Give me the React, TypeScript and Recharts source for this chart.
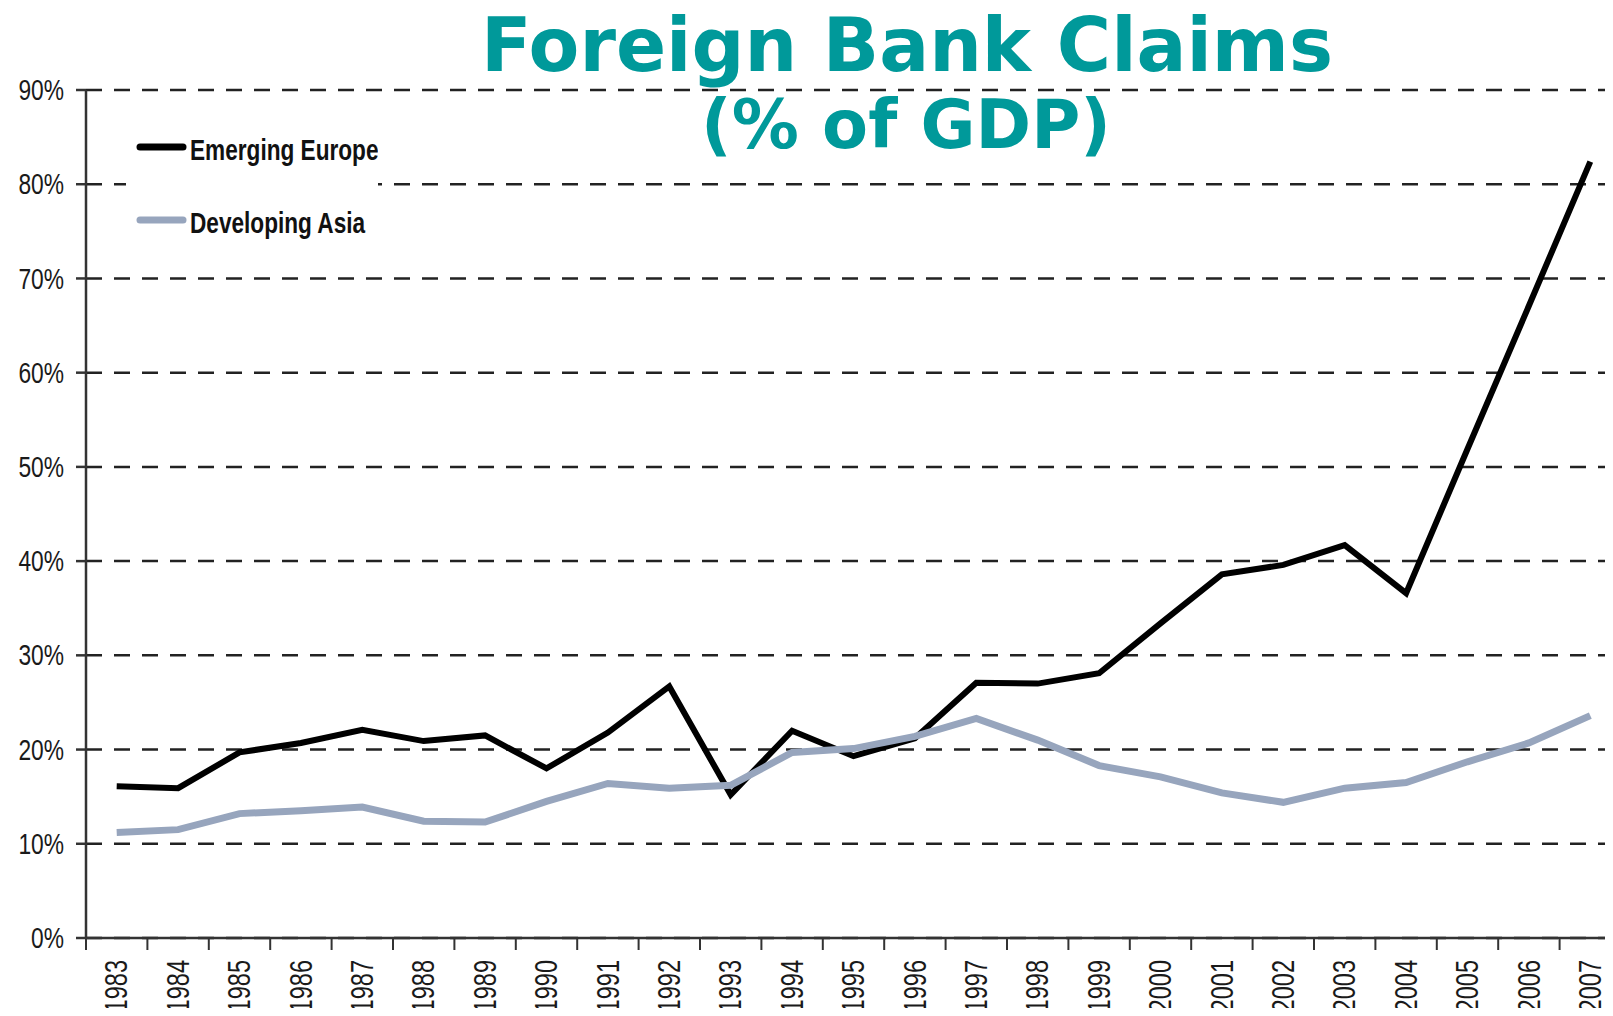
import { CartesianGrid, Line, LineChart, XAxis, YAxis } from 'recharts'

const years = [
  '1983', '1984', '1985', '1986', '1987', '1988', '1989', '1990', '1991', '1992', '1993', '1994', '1995',
  '1996', '1997', '1998', '1999', '2000', '2001', '2002', '2003', '2004', '2005', '2006', '2007',
]

const emergingEurope = [
  16.1, 15.9, 19.7, 20.7, 22.1, 20.9, 21.5, 18.0, 21.8, 26.7, 15.2, 22.0, 19.3,
  21.2, 27.1, 27.0, 28.1, 33.4, 38.6, 39.6, 41.7, 36.6, 51.9, 67.1, 82.4,
]

const developingAsia = [
  11.2, 11.5, 13.2, 13.5, 13.9, 12.4, 12.3, 14.5, 16.4, 15.9, 16.2, 19.7, 20.1,
  21.4, 23.3, 21.0, 18.3, 17.1, 15.4, 14.4, 15.9, 16.5, 18.7, 20.7, 23.6,
]

const yTicks = [0, 10, 20, 30, 40, 50, 60, 70, 80, 90]

const SERIES = [
  { key: 'europe', name: 'Emerging Europe', color: '#000000', width: 6 },
  { key: 'asia', name: 'Developing Asia', color: '#97a5bd', width: 7 },
]

const data = years.map((year, i) => ({ year, europe: emergingEurope[i], asia: developingAsia[i] }))

// chart is a bit wider than the page: the last band runs off the right edge, like the original
const CHART_W = 1633
const CHART_H = 1016
const TOP = 90
const PLOT_H = 848
const Y_AXIS_W = 86
const RIGHT_MARGIN = 12
const BAND = (CHART_W - Y_AXIS_W - RIGHT_MARGIN) / years.length

const sans = '"Liberation Sans", Arial, sans-serif'
const teal = '#00999a'
// the original uses a condensed face; squeeze Liberation Sans horizontally
const SQUEEZE = 0.76

function YearTick({ x, y, payload }: any) {
  return (
    <g>
      <line x1={x - BAND / 2} x2={x - BAND / 2} y1={y} y2={y + 12} stroke="#333" strokeWidth={2} />
      <text
        transform={`translate(${x}, ${y + 22}) rotate(-90) scale(${SQUEEZE}, 1)`}
        textAnchor="end"
        dominantBaseline="central"
        fontFamily={sans}
        fontSize={31}
        fill="#1a1a1a"
      >
        {payload.value}
      </text>
    </g>
  )
}

function PercentTick({ x, y, payload }: any) {
  return (
    <text
      transform={`translate(${x}, ${y}) scale(${SQUEEZE}, 1)`}
      textAnchor="end"
      dominantBaseline="central"
      fontFamily={sans}
      fontSize={30}
      fill="#1a1a1a"
    >
      {`${payload.value}%`}
    </text>
  )
}

function LegendBox() {
  return (
    <div style={{ position: 'absolute', left: 126, top: 122, width: 252, height: 122, background: '#fff' }}>
      <svg width={252} height={122}>
        {SERIES.map((s, i) => (
          <g key={s.key} transform={`translate(0, ${25 + i * 73})`}>
            <line x1={14} x2={57} y1={0} y2={0} stroke={s.color} strokeWidth={7} strokeLinecap="round" />
            <text
              transform={`translate(64, 13) scale(0.78, 1)`}
              fontFamily={sans}
              fontWeight="bold"
              fontSize={29}
              fill="#111"
            >
              {s.name}
            </text>
          </g>
        ))}
      </svg>
    </div>
  )
}

export default function App() {
  return (
    <div style={{ margin: -8, width: 1613, height: 1016, overflow: 'hidden', position: 'relative', background: '#fff' }}>
      <LineChart width={CHART_W} height={CHART_H} data={data} margin={{ top: TOP, right: RIGHT_MARGIN, left: 0, bottom: 0 }}>
        <CartesianGrid horizontal vertical={false} stroke="#222" strokeWidth={2.5} strokeDasharray="16 12" />
        <XAxis
          dataKey="year"
          scale="band"
          height={CHART_H - TOP - PLOT_H}
          tick={<YearTick />}
          tickLine={false}
          tickSize={0}
          tickMargin={0}
          interval={0}
          axisLine={{ stroke: '#333', strokeWidth: 2.5 }}
        />
        <YAxis
          width={Y_AXIS_W}
          domain={[0, 90]}
          ticks={yTicks}
          interval={0}
          tickSize={10}
          tickMargin={12}
          tickLine={{ stroke: '#333', strokeWidth: 2.5 }}
          axisLine={{ stroke: '#333', strokeWidth: 2.5 }}
          tick={<PercentTick />}
        />
        {SERIES.map((s) => (
          <Line
            key={s.key}
            dataKey={s.key}
            name={s.name}
            stroke={s.color}
            strokeWidth={s.width}
            strokeLinejoin="miter"
            dot={false}
            activeDot={false}
            isAnimationActive={false}
          />
        ))}
      </LineChart>
      <LegendBox />
      <svg width={1613} height={1016} style={{ position: 'absolute', left: 0, top: 0, pointerEvents: 'none' }}>
        <text x={907} y={71} textAnchor="middle" fontFamily='"DejaVu Sans", Verdana, sans-serif' fontWeight="bold" fontSize={74} fill={teal}>
          Foreign Bank Claims
        </text>
        <text x={906} y={148} textAnchor="middle" fontFamily='"DejaVu Sans", Verdana, sans-serif' fontWeight="bold" fontSize={67} fill={teal}>
          (% of GDP)
        </text>
      </svg>
    </div>
  )
}
